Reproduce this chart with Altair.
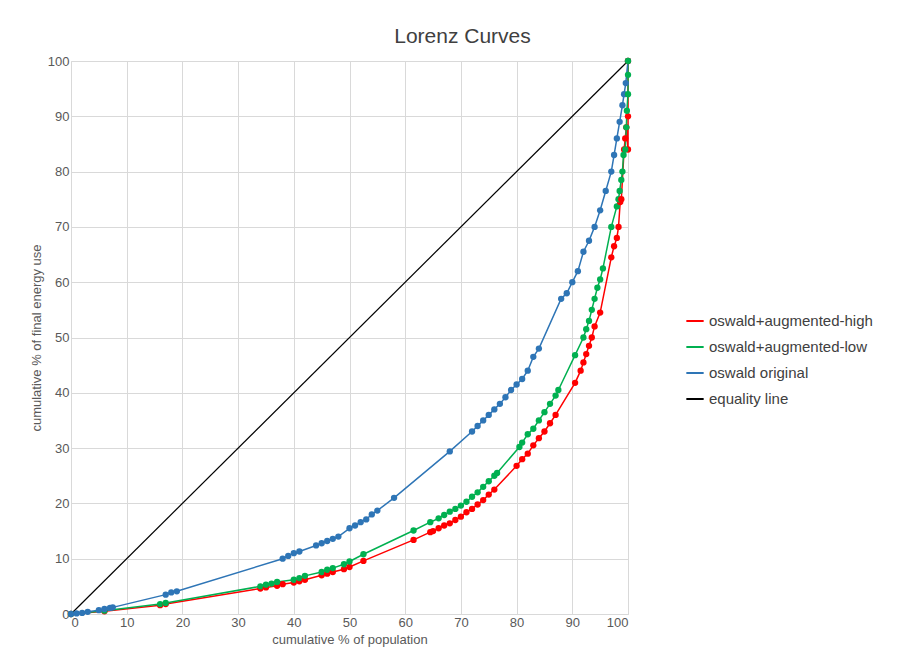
import pandas as pd
import altair as alt

blue_x = [0, 1, 2, 3, 5, 6, 7, 7.5, 17, 18, 19, 38, 39, 40, 41, 44, 45, 46, 47, 48, 50, 51, 52, 53, 54, 55, 58, 68, 72, 73, 74, 75, 76, 77, 78, 79, 80, 81, 82, 83, 84, 88, 89, 90, 91, 92, 93, 94, 95, 96, 97, 97.5, 98, 98.5, 99, 99.3, 99.6, 100]
blue_y = [0, 0.1, 0.2, 0.4, 0.7, 0.9, 1.1, 1.2, 3.5, 3.9, 4.1, 10, 10.5, 11, 11.3, 12.4, 12.8, 13.2, 13.6, 14, 15.5, 16, 16.6, 17.1, 18, 18.7, 21, 29.4, 33, 34, 35, 36, 37, 38, 39.2, 40.5, 41.5, 42.5, 44, 46.5, 48, 57, 58, 60, 62, 65.5, 67.5, 70, 73, 76.5, 80, 83, 86, 89, 92, 94, 96, 100]

green_x = [0, 6, 16, 17, 34, 35, 36, 37, 40, 41, 42, 45, 46, 47, 49, 50, 52.5, 61.5, 64.5, 66, 67, 68, 69, 70, 71, 72, 73, 74, 75, 76, 76.5, 80.5, 81, 82, 83, 84, 85, 86, 87, 87.5, 90.5, 92, 92.5, 93, 93.5, 94, 94.5, 95, 95.5, 97, 98, 98.3, 98.5, 98.8, 99, 99.2, 99.5, 99.7, 99.8, 100, 100, 100]
green_y = [0, 0.6, 1.8, 2, 5, 5.3, 5.5, 5.8, 6.2, 6.5, 6.9, 7.6, 8, 8.3, 9, 9.5, 10.8, 15.1, 16.6, 17.3, 17.9, 18.5, 19, 19.6, 20.3, 21.2, 22, 23, 24, 25, 25.5, 30.2, 31, 32.5, 33.5, 35, 36.5, 38, 39.5, 40.5, 46.8, 50, 51.5, 53, 55, 57, 59, 60.5, 62.5, 70, 73.7, 75, 76.5, 78.5, 80, 83, 84, 88, 91, 94, 97.5, 100]

red_x = [0, 6, 16, 17, 34, 35, 37, 38, 40, 41, 42, 45, 46, 47, 49, 50, 52.5, 61.5, 64.5, 65, 66, 67, 68, 69, 70, 71, 72, 73, 74, 75, 76, 80, 81, 82, 83, 84, 85, 86, 87, 90.5, 91.5, 92, 92.5, 93, 93.5, 94, 95, 97, 97.5, 98, 98.3, 98.6, 98.8, 99.3, 99.5, 99.7, 100, 100, 100]
red_y = [0, 0.5, 1.6, 1.8, 4.6, 4.8, 5.1, 5.4, 5.7, 5.9, 6.2, 7, 7.3, 7.6, 8.1, 8.5, 9.6, 13.4, 14.8, 15, 15.5, 16, 16.4, 17, 17.6, 18.4, 19, 19.8, 20.6, 21.6, 22.5, 26.8, 28, 29, 30.5, 31.8, 33, 34.5, 36, 41.8, 44, 45.5, 47, 48.5, 50, 52, 54.5, 64.5, 66.5, 68, 70, 74.5, 75, 84, 86, 88, 84, 90, 100]

eq_x = [0, 100]
eq_y = [0, 100]

names = ["oswald+augmented-high", "oswald+augmented-low", "oswald original", "equality line"]
colors = ["#ff0000", "#00b050", "#2e75b6", "#000000"]

rows = []
for name, xs, ys in [(names[0], red_x, red_y), (names[1], green_x, green_y), (names[2], blue_x, blue_y)]:
    for i, (x, y) in enumerate(zip(xs, ys)):
        rows.append({"series": name, "x": x, "y": y, "order": i})
pts = pd.DataFrame(rows)
eq = pd.DataFrame({"series": names[3], "x": eq_x, "y": eq_y, "order": [0, 1]})

color = alt.Color("series:N", scale=alt.Scale(domain=names, range=colors),
                  legend=alt.Legend(title=None, labelFontSize=15, orient="none", legendX=614, legendY=250,
                                    symbolType="stroke", symbolStrokeWidth=2, symbolSize=300,
                                    labelLimit=300, labelColor="#404040",
                                    labelFont="Liberation Sans", rowPadding=8))
xax = alt.X("x:Q", scale=alt.Scale(domain=[0, 100], nice=False),
            axis=alt.Axis(values=list(range(0, 101, 10)), title="cumulative % of population",
                          titleFontWeight="normal", titleFontSize=13, labelFontSize=13,
                          titleColor="#595959", labelColor="#595959", domain=False, ticks=False,
                          gridColor="#d9d9d9"))
yax = alt.Y("y:Q", scale=alt.Scale(domain=[0, 100], nice=False),
            axis=alt.Axis(values=list(range(0, 101, 10)), title="cumulative % of final energy use",
                          titleFontWeight="normal", titleFontSize=13, labelFontSize=13,
                          titleColor="#595959", labelColor="#595959", domain=False, ticks=False,
                          gridColor="#d9d9d9"))

eq_line = alt.Chart(eq).mark_line(strokeWidth=1.2).encode(x=xax, y=yax, color=color, order="order:Q")
curves = alt.Chart(pts).mark_line(strokeWidth=1.5, point=alt.OverlayMarkDef(filled=True, size=40)).encode(
    x=xax, y=yax, color=color, order="order:Q")

chart = alt.layer(eq_line, curves).properties(
    width=557, height=553,
    padding={"left": 22, "top": 18, "right": 5, "bottom": 5},
    title=alt.TitleParams("Lorenz Curves", fontSize=21, fontWeight="normal", color="#404040",
                          font="Liberation Sans", offset=8, dx=113)
).configure_view(stroke=None).configure(font="Liberation Sans")

chart.save("out.html", embed_options={"renderer": "svg", "actions": False})
